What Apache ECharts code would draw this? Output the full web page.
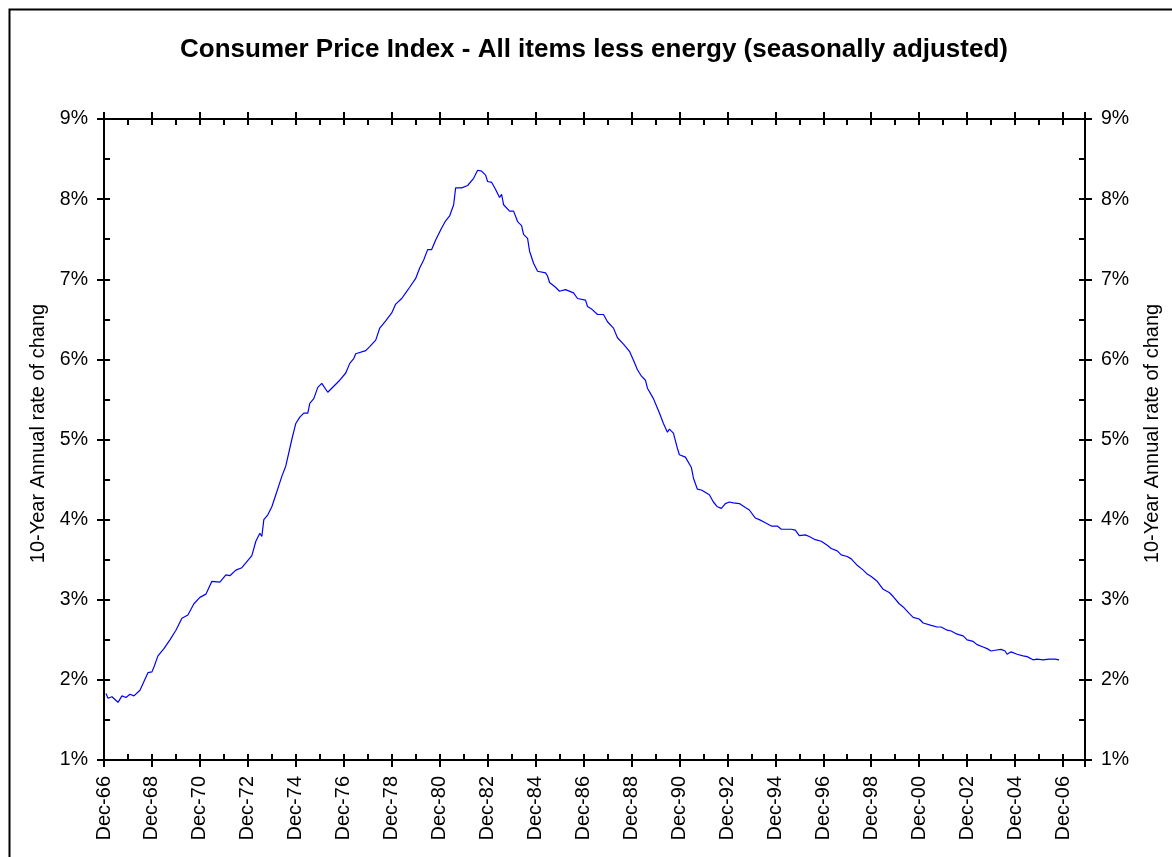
<!DOCTYPE html>
<html>
<head>
<meta charset="utf-8">
<script src="https://cdn.jsdelivr.net/npm/echarts@6/dist/echarts.min.js"></script>
<style>
html,body{margin:0;padding:0;background:#fff;}
#chart{width:1172px;height:857px;}
</style>
</head>
<body>
<div id="chart"></div>
<script>
// Month offsets counted from Dec-1966 (0 = Dec-66, 12 = Dec-67, ...)
const monthsFromDec66 = [1,2,4,7,9,11,13,15,18,20,22,24,25,27,30,31,33,36,39,42,45,46,48,51,54,55,58,61,63,66,69,71,74,76,78,79,80,82,84,86,89,91,94,96,98,100,102,103,105,107,109,112,113,116,118,121,123,125,126,131,133,136,138,141,144,146,149,151,153,156,158,160,162,164,166,169,171,173,175,176,179,182,183,185,187,189,191,192,194,196,198,199,200,203,205,207,209,210,212,213,215,217,221,222,223,226,228,231,232,235,237,241,242,244,247,250,252,255,257,260,263,265,267,269,271,272,275,277,278,280,282,283,285,287,288,291,294,295,297,299,303,305,307,309,311,313,315,318,321,323,326,328,331,334,337,339,340,344,346,348,351,353,354,356,359,362,364,367,369,372,374,377,380,382,384,387,390,393,395,398,400,403,405,408,410,414,417,419,422,424,427,430,432,435,437,440,442,444,446,449,451,452,454,457,460,462,465,467,470,473,476,478];
// 10-year annual rate of change, %
const rateValues = [1.83,1.77,1.79,1.72,1.80,1.78,1.82,1.80,1.87,1.98,2.09,2.10,2.16,2.30,2.39,2.39,2.50,2.62,2.77,2.81,2.95,2.95,3.03,3.07,3.23,3.21,3.22,3.31,3.30,3.37,3.40,3.46,3.55,3.73,3.83,3.79,4.00,4.06,4.16,4.31,4.54,4.67,5.00,5.20,5.28,5.33,5.33,5.45,5.51,5.65,5.70,5.59,5.61,5.69,5.74,5.83,5.95,6.01,6.07,6.11,6.16,6.24,6.39,6.48,6.58,6.69,6.76,6.83,6.90,7.01,7.14,7.24,7.37,7.37,7.49,7.64,7.73,7.79,7.93,8.14,8.14,8.17,8.19,8.26,8.36,8.35,8.30,8.22,8.21,8.12,8.02,8.06,7.93,7.85,7.85,7.72,7.67,7.56,7.51,7.35,7.20,7.10,7.08,7.04,6.96,6.90,6.85,6.87,6.88,6.83,6.76,6.74,6.66,6.63,6.56,6.56,6.47,6.39,6.27,6.19,6.10,5.99,5.87,5.79,5.74,5.64,5.51,5.39,5.33,5.20,5.09,5.13,5.08,4.89,4.81,4.78,4.65,4.52,4.38,4.37,4.31,4.22,4.16,4.14,4.20,4.22,4.21,4.20,4.15,4.12,4.02,4.00,3.96,3.92,3.92,3.88,3.90,3.88,3.87,3.80,3.81,3.79,3.80,3.75,3.73,3.68,3.64,3.61,3.56,3.54,3.51,3.43,3.37,3.32,3.29,3.23,3.13,3.09,3.04,2.95,2.91,2.83,2.78,2.76,2.71,2.68,2.66,2.66,2.62,2.61,2.57,2.55,2.50,2.48,2.44,2.41,2.39,2.36,2.37,2.38,2.36,2.32,2.35,2.32,2.30,2.29,2.25,2.26,2.25,2.26,2.26,2.25];
const titleText = 'Consumer Price Index - All items less energy (seasonally adjusted)';
const yAxisName = '10-Year Annual rate of change';
const xTickLabels = ['Dec-66','Dec-68','Dec-70','Dec-72','Dec-74','Dec-76','Dec-78','Dec-80','Dec-82','Dec-84','Dec-86','Dec-88','Dec-90','Dec-92','Dec-94','Dec-96','Dec-98','Dec-00','Dec-02','Dec-04','Dec-06'];
const xMaxMonths = 491;

const FONT = 'Liberation Sans, Arial, sans-serif';
const lineStyle = {color:'#000', width:2};
const seriesData = monthsFromDec66.map((m,i)=>[m, rateValues[i]]);

function xAx(position, withLabels, inside, interval, len) {
  return {
    type:'value', position, min:0, max:xMaxMonths, interval,
    axisLine:{show:true, onZero:false, lineStyle},
    axisTick:{show:true, inside, length:len, lineStyle},
    splitLine:{show:false},
    axisLabel:{show:withLabels, rotate:90, margin:16, fontFamily:FONT, fontSize:20, color:'#000',
      formatter:(v)=> (v % 24 === 0 && v/24 < xTickLabels.length) ? xTickLabels[v/24] : ''}
  };
}
function yAx(position, withLabels, inside, interval, len, nameGap) {
  const ax = {
    type:'value', position, min:1, max:9, interval,
    axisLine:{show:true, onZero:false, lineStyle},
    axisTick:{show:true, inside, length:len, lineStyle},
    splitLine:{show:false},
    axisLabel:{show:withLabels, margin:16, fontFamily:FONT, fontSize:19.5, color:'#000',
      formatter:(v)=> Number.isInteger(v) ? v + '%' : ''}
  };
  if (nameGap) {
    ax.name = yAxisName;
    ax.nameLocation = 'middle';
    ax.nameGap = nameGap;
    ax.nameTruncate = {maxWidth:264, ellipsis:''};
    ax.nameTextStyle = {fontFamily:FONT, fontSize:20, color:'#000', padding:[0,0,0,12]};
  }
  return ax;
}

const chart = echarts.init(document.getElementById('chart'), null, {renderer:'canvas'});
chart.setOption({
  animation:false,
  backgroundColor:'#fff',
  title:{text:titleText, left:589, top:32, textAlign:'center',
    textStyle:{fontFamily:FONT, fontSize:26, fontWeight:'bold', color:'#000'}},
  graphic:[{type:'rect', left:7, top:7, shape:{x:0,y:0,width:1300,height:1000},
    style:{fill:'none', stroke:'#000', lineWidth:2}, silent:true, z:-1}],
  grid:{left:104, right:87, top:119, bottom:97, containLabel:false},
  xAxis:[
    xAx('bottom', true, false, 24, 7),
    xAx('bottom', false, true, 12, 6),
    xAx('top', false, false, 24, 7),
    xAx('top', false, true, 12, 6)
  ],
  yAxis:[
    yAx('left', true, false, 1, 7, 48),
    yAx('left', false, true, 0.5, 6, 0),
    yAx('right', true, false, 1, 7, 57),
    yAx('right', false, true, 0.5, 6, 0)
  ],
  series:[{
    type:'line', xAxisIndex:0, yAxisIndex:0, data:seriesData,
    showSymbol:false, symbol:'none', smooth:false,
    lineStyle:{color:'#0000ff', width:1.2}
  }]
});
</script>
</body>
</html>
